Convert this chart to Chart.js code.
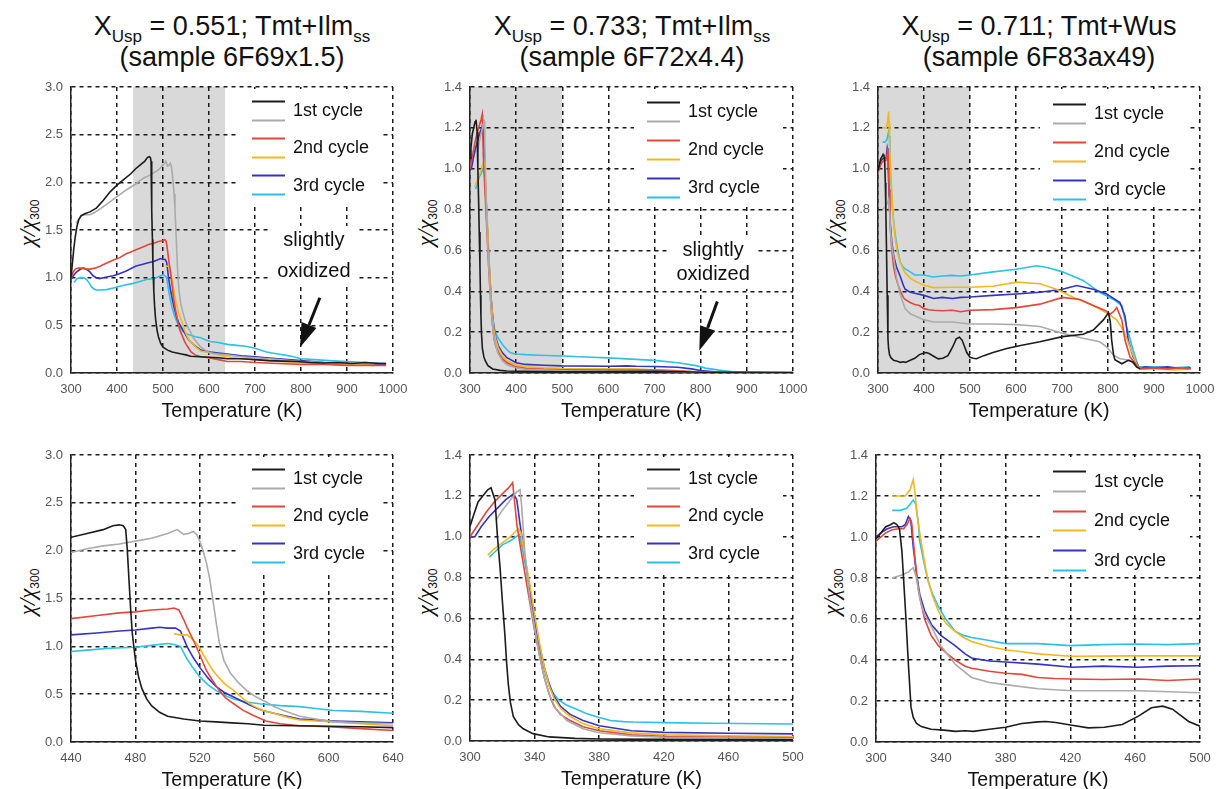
<!DOCTYPE html>
<html>
<head>
<meta charset="utf-8">
<script src="https://cdn.jsdelivr.net/npm/chart.js@4.4.0/dist/chart.umd.min.js"></script>
<style>
  body { margin: 0; background: #fff; width: 1216px; height: 789px; overflow: hidden; position: relative;
         font-family: "Liberation Sans", Arial, sans-serif; color: #111; }
  canvas { position: absolute; }
  .title { position: absolute; font-size: 27px; line-height: 31px; text-align: center; white-space: nowrap;
           transform: translateX(-50%); }
  .title sub { font-size: 17px; line-height: 0; vertical-align: baseline; position: relative; top: 7px; }
  .ylab { position: absolute; transform: translate(-50%, -50%) rotate(-90deg); white-space: nowrap;
          font-family: "Liberation Serif", "DejaVu Serif", serif; font-style: italic; font-size: 23px; }
  .ylab sub { font-family: "Liberation Sans", Arial, sans-serif; font-style: normal; font-size: 12px;
              line-height: 0; vertical-align: baseline; position: relative; top: 4px; }
</style>
</head>
<body>

<div class="title" style="left:232px;top:11px">X<sub>Usp</sub> = 0.551; Tmt+Ilm<sub>ss</sub><br>(sample 6F69x1.5)</div>
<div class="title" style="left:632px;top:11px">X<sub>Usp</sub> = 0.733; Tmt+Ilm<sub>ss</sub><br>(sample 6F72x4.4)</div>
<div class="title" style="left:1039px;top:11px">X<sub>Usp</sub> = 0.711; Tmt+Wus<br>(sample 6F83ax49)</div>

<div class="ylab" style="left:28px;top:223px">χ/χ<sub>300</sub></div>
<div class="ylab" style="left:426px;top:223px">χ/χ<sub>300</sub></div>
<div class="ylab" style="left:834px;top:223px">χ/χ<sub>300</sub></div>
<div class="ylab" style="left:28px;top:592px">χ/χ<sub>300</sub></div>
<div class="ylab" style="left:426px;top:592px">χ/χ<sub>300</sub></div>
<div class="ylab" style="left:832px;top:592px">χ/χ<sub>300</sub></div>

<canvas id="p1"></canvas>
<canvas id="p2"></canvas>
<canvas id="p3"></canvas>
<canvas id="p4"></canvas>
<canvas id="p5"></canvas>
<canvas id="p6"></canvas>

<script>
// legend
const cycleLabels = ['1st cycle', '2nd cycle', '3rd cycle'];
// heating / cooling colour for each cycle
const cycleColors = ['#1c1c1c', '#ababab', '#e2473b', '#f2b822', '#3434c4', '#2cc0ea'];

// ---- sample 6F69x1.5 : [T (K), chi/chi300] ----
const c69_1h = [[300,1.0],[303,1.15],[306,1.3],[309,1.42],[313,1.54],[317,1.61],[322,1.65],[330,1.67],[341,1.69],[355,1.73],[370,1.81],[385,1.9],[400,1.97],[415,2.03],[430,2.09],[440,2.14],[450,2.18],[460,2.22],[466,2.26],[470,2.27],[472.5,2.26],[474,2.22],[475,2.0],[476,1.7],[477,1.4],[478,1.15],[479,1.0],[480,0.86],[482,0.68],[484,0.56],[487,0.45],[490,0.38],[495,0.31],[500,0.27],[510,0.24],[520,0.22],[530,0.21],[540,0.2],[550,0.19],[560,0.175],[580,0.17],[600,0.165],[620,0.16],[640,0.15],[670,0.15],[700,0.14],[730,0.13],[760,0.125],[790,0.12],[820,0.11],[850,0.105],[880,0.11],[910,0.1],[940,0.11],[970,0.1],[985,0.1]];
const c69_1c = [[311,1.57],[316,1.61],[323,1.65],[330,1.66],[341,1.66],[350,1.68],[363,1.72],[380,1.78],[403,1.86],[420,1.92],[440,1.98],[450,2.02],[460,2.05],[470,2.07],[480,2.1],[490,2.13],[500,2.18],[506,2.22],[510,2.17],[513,2.18],[516,2.2],[518,2.17],[520,2.1],[522,2.0],[524,1.88],[526,1.72],[528,1.5],[530,1.27],[532,1.05],[535,0.85],[539,0.72],[544,0.62],[549,0.54],[555,0.47],[561,0.42],[566,0.37],[572,0.33],[582,0.27],[592,0.24],[603,0.21],[620,0.2],[640,0.19],[670,0.17],[700,0.16],[750,0.14],[800,0.12],[850,0.11],[900,0.1],[950,0.1],[985,0.1]];
const c69_2h = [[300,1.0],[304,1.05],[309,1.09],[316,1.1],[326,1.1],[335,1.09],[341,1.09],[352,1.1],[363,1.12],[380,1.16],[395,1.19],[406,1.21],[420,1.25],[430,1.27],[440,1.29],[455,1.32],[470,1.35],[480,1.36],[490,1.38],[500,1.39],[504,1.4],[507,1.38],[510,1.28],[512,1.2],[515,1.1],[518,0.99],[521,0.87],[524,0.75],[528,0.64],[532,0.54],[536,0.46],[541,0.4],[547,0.33],[553,0.28],[561,0.22],[570,0.19],[582,0.17],[600,0.16],[620,0.14],[640,0.12],[670,0.12],[700,0.11],[750,0.1],[800,0.09],[850,0.09],[900,0.08],[950,0.08],[985,0.08]];
const c69_2c = [[504,1.13],[508,1.12],[512,1.12],[515,1.08],[518,1.03],[520,0.98],[524,0.86],[528,0.75],[532,0.67],[536,0.6],[541,0.54],[547,0.45],[553,0.38],[559,0.33],[566,0.3],[574,0.26],[582,0.23],[592,0.22],[603,0.21],[620,0.19],[640,0.17],[670,0.15],[700,0.14],[750,0.12],[800,0.11],[850,0.1],[900,0.09],[960,0.08]];
const c69_3h = [[300,0.98],[305,1.02],[310,1.05],[315,1.07],[321,1.09],[327,1.1],[333,1.09],[341,1.06],[348,1.02],[355,1.0],[362,0.99],[370,1.0],[380,1.01],[392,1.02],[405,1.04],[420,1.07],[440,1.12],[456,1.14],[470,1.16],[480,1.17],[490,1.19],[495,1.2],[500,1.19],[505,1.19],[508,1.16],[512,1.0],[516,0.88],[520,0.78],[525,0.67],[530,0.58],[535,0.52],[541,0.47],[547,0.42],[553,0.37],[559,0.33],[566,0.3],[574,0.27],[582,0.24],[592,0.23],[603,0.22],[620,0.21],[640,0.2],[670,0.18],[700,0.17],[750,0.15],[800,0.13],[850,0.11],[900,0.1],[950,0.09],[985,0.09]];
const c69_3c = [[306,0.95],[310,0.97],[313,0.99],[320,1.0],[327,1.0],[334,0.98],[340,0.94],[345,0.9],[350,0.88],[355,0.87],[365,0.87],[377,0.875],[390,0.89],[406,0.91],[420,0.925],[435,0.94],[450,0.96],[464,0.98],[480,0.99],[490,1.01],[500,1.03],[504,1.02],[508,1.0],[512,0.87],[516,0.77],[520,0.68],[525,0.6],[530,0.54],[535,0.49],[541,0.45],[548,0.42],[557,0.4],[570,0.38],[582,0.37],[592,0.35],[603,0.33],[620,0.32],[640,0.3],[660,0.29],[680,0.28],[700,0.26],[725,0.22],[750,0.2],[775,0.18],[800,0.15],[830,0.14],[860,0.13],[900,0.12],[940,0.11],[985,0.1]];

// ---- sample 6F72x4.4 ----
const c72_1h = [[300,1.05],[302,1.1],[305,1.17],[308,1.2],[311,1.23],[313,1.24],[315.5,1.18],[317,1.0],[318.6,0.85],[320,0.69],[321.6,0.52],[322.7,0.38],[323.7,0.28],[325,0.19],[326.8,0.12],[330,0.08],[333,0.06],[339,0.036],[349,0.02],[365,0.013],[380,0.01],[420,0.008],[500,0.006],[600,0.007],[700,0.008],[760,0.006],[800,0.004],[900,0.003],[1000,0.002]];
const c72_1c = [[316,1.08],[320,1.13],[325,1.18],[329,1.22],[331,1.23],[332,1.15],[334,0.92],[337,0.7],[340,0.55],[343,0.42],[346,0.31],[349,0.23],[353,0.16],[360,0.1],[370,0.06],[380,0.04],[400,0.025],[420,0.018],[500,0.012],[600,0.01],[700,0.009],[800,0.005],[900,0.003],[1000,0.002]];
const c72_2h = [[300,1.0],[305,1.06],[310,1.12],[315,1.17],[320,1.21],[324,1.24],[326.4,1.265],[327.5,1.18],[329,1.06],[331,0.96],[334,0.82],[337,0.68],[340,0.54],[343,0.42],[346,0.31],[349,0.23],[352,0.17],[356,0.13],[362,0.1],[370,0.07],[380,0.05],[400,0.03],[422,0.022],[460,0.018],[500,0.016],[600,0.015],[700,0.014],[760,0.01],[800,0.004],[850,0.002],[1000,0.001]];
const c72_2c = [[311,0.91],[315,0.94],[320,0.97],[325,1.0],[330,1.04],[331.5,1.02],[334,0.9],[337,0.77],[340,0.62],[343,0.48],[346,0.36],[349,0.27],[352,0.21],[356,0.16],[362,0.12],[370,0.085],[380,0.06],[400,0.04],[422,0.03],[460,0.025],[500,0.022],[600,0.02],[650,0.02],[700,0.016],[750,0.012],[790,0.006],[820,0.002],[900,0.001]];
const c72_3h = [[300,1.0],[303,1.0],[307,1.05],[312,1.1],[317,1.14],[322,1.18],[327,1.21],[329,1.18],[331,1.06],[334,0.9],[337,0.74],[340,0.6],[343,0.47],[346,0.36],[349,0.28],[352,0.22],[356,0.17],[362,0.13],[370,0.1],[380,0.075],[400,0.05],[420,0.042],[460,0.038],[500,0.035],[600,0.033],[640,0.035],[660,0.033],[700,0.032],[750,0.028],[780,0.02],[800,0.012],[830,0.006],[870,0.002],[1000,0.001]];
const c72_3c = [[312,0.9],[316,0.93],[320,0.96],[325,0.98],[330.5,1.01],[332,0.96],[335,0.83],[338,0.68],[341,0.54],[344,0.42],[347,0.32],[350,0.25],[355,0.2],[360,0.175],[366,0.155],[372,0.135],[380,0.115],[387,0.1],[395,0.095],[401,0.093],[420,0.09],[450,0.087],[500,0.083],[550,0.078],[600,0.074],[650,0.068],[700,0.062],[750,0.05],[790,0.036],[810,0.024],[840,0.014],[870,0.006],[900,0.003],[1000,0.002]];

// ---- sample 6F83ax49 ----
const c83_1h = [[300,0.99],[303,1.02],[306,1.05],[309,1.06],[311,1.07],[313,1.06],[314.5,1.04],[316,0.93],[317,0.8],[318.5,0.6],[320,0.38],[321.6,0.17],[323,0.12],[325,0.09],[328,0.075],[334,0.062],[342,0.058],[349,0.052],[355,0.055],[360,0.052],[370,0.062],[380,0.072],[390,0.09],[400,0.098],[405,0.1],[411,0.095],[421,0.082],[431,0.069],[441,0.072],[452,0.085],[462,0.126],[470,0.167],[477,0.175],[483,0.16],[493,0.1],[500,0.077],[507,0.072],[514,0.07],[530,0.085],[550,0.1],[580,0.12],[610,0.135],[652,0.153],[701,0.178],[746,0.19],[768,0.21],[790,0.26],[801,0.295],[805,0.25],[808,0.16],[812,0.09],[815,0.065],[830,0.045],[844,0.062],[855,0.053],[862,0.03],[870,0.02]];
const c83_1c = [[310,0.8],[316,0.815],[320,0.83],[323,0.85],[325,0.8],[327,0.7],[330,0.62],[334.4,0.56],[340,0.47],[348.8,0.38],[359,0.315],[370,0.29],[380,0.28],[400,0.26],[421,0.25],[462,0.25],[500,0.24],[550,0.24],[601,0.237],[652,0.228],[701,0.195],[746,0.17],[782,0.153],[797,0.128],[812,0.087],[826,0.07],[848,0.062],[862,0.03],[870,0.02]];
const c83_2h = [[300,0.98],[303,1.0],[306,1.02],[310,1.035],[314,1.04],[317,1.04],[319,1.06],[321,1.09],[322,1.07],[324,0.9],[326,0.75],[328,0.67],[330,0.6],[334,0.52],[338.5,0.47],[344,0.43],[348.8,0.4],[355,0.37],[359,0.36],[370,0.345],[380,0.335],[390,0.33],[400,0.315],[410,0.31],[421,0.307],[440,0.305],[462,0.307],[480,0.3],[500,0.307],[550,0.31],[601,0.32],[652,0.337],[701,0.37],[739,0.36],[768,0.33],[797,0.303],[804,0.287],[812,0.3],[819,0.32],[830,0.26],[837,0.16],[848,0.078],[862,0.04],[870,0.02],[900,0.025],[930,0.02],[955,0.025],[980,0.02]];
const c83_2c = [[310,1.2],[314,1.2],[318,1.2],[321,1.23],[323,1.28],[324,1.22],[325.5,1.1],[327,1.02],[329.5,0.9],[332,0.79],[335,0.71],[338.5,0.64],[343,0.58],[348.8,0.54],[354,0.51],[359,0.49],[370,0.465],[380,0.45],[390,0.44],[400,0.43],[420,0.418],[460,0.42],[500,0.42],[550,0.425],[601,0.445],[652,0.437],[688,0.41],[725,0.37],[761,0.337],[797,0.295],[819,0.26],[833,0.21],[851,0.11],[862,0.045],[870,0.02],[900,0.02],[950,0.015],[975,0.02]];
const c83_3h = [[300,1.0],[303,1.02],[307,1.04],[311,1.05],[316,1.05],[318,1.06],[320,1.1],[321.5,1.08],[323,0.95],[325,0.82],[327,0.72],[330,0.64],[334.4,0.57],[340,0.52],[348.8,0.47],[355,0.43],[359,0.41],[370,0.395],[380,0.39],[400,0.38],[421,0.365],[440,0.37],[462,0.365],[480,0.37],[500,0.372],[550,0.38],[601,0.387],[652,0.395],[701,0.41],[732,0.428],[768,0.41],[797,0.387],[826,0.345],[837,0.278],[844,0.16],[855,0.078],[870,0.02],[880,0.03],[900,0.025],[930,0.03],[960,0.02],[980,0.025]];
const c83_3c = [[310,1.13],[315,1.13],[319,1.14],[321,1.16],[323,1.18],[324.5,1.16],[326,1.08],[327,0.98],[329.5,0.88],[332,0.79],[335,0.72],[338.5,0.66],[343,0.6],[348.8,0.54],[354,0.52],[359,0.51],[370,0.495],[380,0.48],[400,0.48],[420,0.47],[440,0.475],[460,0.478],[480,0.475],[500,0.48],[550,0.495],[601,0.508],[645,0.525],[670,0.515],[701,0.495],[746,0.453],[782,0.395],[812,0.36],[830,0.33],[840,0.23],[855,0.11],[866,0.03],[900,0.03],[940,0.025],[978,0.03]];

const s69 = [c69_1h, c69_1c, c69_2h, c69_2c, c69_3h, c69_3c];
const s72 = [c72_1h, c72_1c, c72_2h, c72_2c, c72_3h, c72_3c];
const s83 = [c83_1h, c83_1c, c83_2h, c83_2c, c83_3h, c83_3c];

const noteLines = ['slightly', 'oxidized'];

// canvas margins around the plot area
const PAD_L = 55, PAD_R = 20, PAD_T = 12, X_AXIS_H = 50;
const FONT = '"Liberation Sans", Arial, sans-serif';

const panels = [
  { id: 'p1', left: 71, top: 87, w: 322, h: 286, x: [300, 1000, 100], y: [3, 0.5], series: s69, shade: [435, 635],
    key: { dx: -141, dy: 14, step: 18.6 },
    note: { x: 828, y: [1.395, 1.06], from: [841, 0.79], to: [798, 0.27] } },
  { id: 'p2', left: 470, top: 87, w: 323, h: 286, x: [300, 1000, 100], y: [1.4, 0.2], series: s72, shade: [300, 500],
    key: { dx: -146, dy: 14.7, step: 19 },
    note: { x: 827, y: [0.6, 0.48], from: [836, 0.35], to: [797, 0.11] } },
  { id: 'p3', left: 878, top: 87, w: 322, h: 286, x: [300, 1000, 100], y: [1.4, 0.2], series: s83, shade: [300, 500],
    key: { dx: -147, dy: 17, step: 19 } },
  { id: 'p4', left: 71, top: 455, w: 322, h: 287, x: [440, 640, 40], y: [3, 0.5], series: s69,
    key: { dx: -141, dy: 14, step: 18.6 } },
  { id: 'p5', left: 470, top: 455, w: 323, h: 286, x: [300, 500, 40], y: [1.4, 0.2], series: s72,
    key: { dx: -146, dy: 14, step: 18.6 } },
  { id: 'p6', left: 876, top: 455, w: 324, h: 287, x: [300, 500, 40], y: [1.4, 0.2], series: s83,
    key: { dx: -147, dy: 16, step: 19.8 } },
];

// grey band behind the grid
const shadePlugin = {
  id: 'shade',
  beforeDraw(chart, args, opts) {
    if (!opts.range) return;
    const { ctx, chartArea: a, scales: { x } } = chart;
    const x0 = Math.max(a.left, x.getPixelForValue(opts.range[0]));
    const x1 = Math.min(a.right, x.getPixelForValue(opts.range[1]));
    ctx.save();
    ctx.fillStyle = '#d9d9d9';
    ctx.fillRect(x0, a.top, x1 - x0, a.bottom - a.top);
    ctx.restore();
  }
};

// paired-line key (heating over cooling), on a white patch that hides the grid
const keyPlugin = {
  id: 'cycleKey',
  beforeDatasetsDraw(chart, args, opts) {
    const { ctx, chartArea: a } = chart;
    const x0 = a.right + opts.dx;
    ctx.save();
    ctx.fillStyle = '#fff';
    ctx.fillRect(x0 - 13, a.top + 2, a.right - 10 - (x0 - 13), 116);
    ctx.font = '18px ' + FONT;
    ctx.textBaseline = 'middle';
    ctx.lineWidth = 2;
    cycleLabels.forEach((lab, i) => {
      const y0 = a.top + opts.dy + opts.step * 2 * i;
      for (let k = 0; k < 2; k++) {
        const y = Math.round(y0 + opts.step * k) + 0.5;
        ctx.strokeStyle = cycleColors[i * 2 + k];
        ctx.beginPath(); ctx.moveTo(x0, y); ctx.lineTo(x0 + 33, y); ctx.stroke();
      }
      ctx.fillStyle = '#111';
      ctx.fillText(lab, x0 + 41, y0 + opts.step / 2 + 1);
    });
    ctx.restore();
  }
};

// "slightly oxidized" with arrow
const notePlugin = {
  id: 'note',
  afterDatasetsDraw(chart, args, opts) {
    if (!opts.x) return;
    const { ctx, scales: { x, y } } = chart;
    const cx = x.getPixelForValue(opts.x);
    const ys = opts.y.map(v => y.getPixelForValue(v));
    ctx.save();
    ctx.font = '20px ' + FONT;
    const w = Math.max(...noteLines.map(t => ctx.measureText(t).width));
    ctx.fillStyle = '#fff';
    ctx.fillRect(cx - w / 2 - 8, ys[0] - 14, w + 16, ys[1] - ys[0] + 28);
    ctx.fillStyle = '#111';
    ctx.textAlign = 'center';
    ctx.textBaseline = 'middle';
    noteLines.forEach((t, i) => ctx.fillText(t, cx, ys[i]));
    // arrow
    const fx = x.getPixelForValue(opts.from[0]), fy = y.getPixelForValue(opts.from[1]);
    const tx = x.getPixelForValue(opts.to[0]), ty = y.getPixelForValue(opts.to[1]);
    const ang = Math.atan2(ty - fy, tx - fx);
    const hl = 24, hw = 8;
    const bx = tx - hl * Math.cos(ang), by = ty - hl * Math.sin(ang);
    ctx.strokeStyle = '#111';
    ctx.lineWidth = 3;
    ctx.beginPath(); ctx.moveTo(fx, fy); ctx.lineTo(bx, by); ctx.stroke();
    ctx.beginPath();
    ctx.moveTo(tx, ty);
    ctx.lineTo(bx + hw * Math.sin(ang), by - hw * Math.cos(ang));
    ctx.lineTo(bx - hw * Math.sin(ang), by + hw * Math.cos(ang));
    ctx.closePath();
    ctx.fill();
    ctx.restore();
  }
};

function fixSize(size, isX) {
  return (scale) => {
    if (isX) scale.height = size; else scale.width = size;
    scale.paddingLeft = scale.paddingRight = scale.paddingTop = scale.paddingBottom = 0;
  };
}

function buildPanel(p) {
  const cv = document.getElementById(p.id);
  const W = PAD_L + p.w + PAD_R, H = PAD_T + p.h + X_AXIS_H;
  cv.width = W; cv.height = H;
  cv.style.width = W + 'px'; cv.style.height = H + 'px';
  cv.style.left = (p.left - PAD_L) + 'px';
  cv.style.top = (p.top - PAD_T) + 'px';

  const datasets = p.series.map((pts, i) => ({
    label: cycleLabels[Math.floor(i / 2)],
    data: pts.map(([t, v]) => ({ x: t, y: v })),
    borderColor: cycleColors[i],
    borderWidth: 1.6,
    pointRadius: 0,
    showLine: true,
    tension: 0
  }));

  const gridStyle = { color: '#1a1a1a', lineWidth: 1.5, drawTicks: false };
  const borderStyle = { display: true, color: '#222', width: 1.5, dash: [4, 4] };

  new Chart(cv, {
    type: 'scatter',
    data: { datasets },
    plugins: [shadePlugin, keyPlugin, notePlugin],
    options: {
      responsive: false,
      animation: false,
      devicePixelRatio: 1,
      events: [],
      layout: { autoPadding: false, padding: { left: 0, top: PAD_T, right: PAD_R, bottom: 0 } },
      plugins: {
        legend: { display: false },
        tooltip: { enabled: false },
        shade: { range: p.shade },
        cycleKey: p.key,
        note: p.note || {}
      },
      scales: {
        x: {
          type: 'linear', min: p.x[0], max: p.x[1],
          grid: gridStyle, border: borderStyle,
          ticks: { stepSize: p.x[2], autoSkip: false, maxRotation: 0, padding: 9, color: '#555',
                   font: { family: FONT, size: 13 }, callback: v => String(v) },
          title: { display: true, text: 'Temperature (K)', color: '#111', padding: 0,
                   font: { family: FONT, size: 19.5 } },
          afterFit: fixSize(X_AXIS_H, true)
        },
        y: {
          type: 'linear', min: 0, max: p.y[0],
          grid: gridStyle, border: borderStyle,
          ticks: { stepSize: p.y[1], padding: 8, color: '#555',
                   font: { family: FONT, size: 13 }, callback: v => v.toFixed(1) },
          afterFit: fixSize(PAD_L, false)
        }
      }
    }
  });
}

panels.forEach(buildPanel);
</script>
</body>
</html>
